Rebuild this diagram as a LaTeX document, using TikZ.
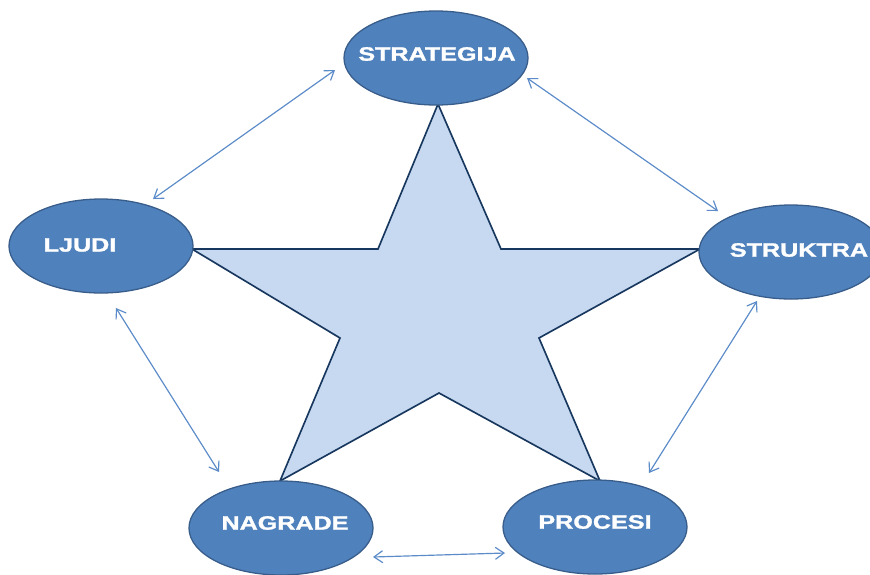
\documentclass[tikz,border=0pt]{standalone}
\usepackage{fontspec}
\setmainfont{Liberation Sans}
\newfontfamily\lblfont[FakeBold=1.2]{Liberation Sans Bold}
\usetikzlibrary{shapes.geometric,arrows.meta}
\definecolor{blobfill}{HTML}{4F81BD}
\definecolor{blobline}{HTML}{385D8A}
\definecolor{starfill}{HTML}{C6D9F1}
\definecolor{starline}{HTML}{17375E}
\definecolor{linkcol}{HTML}{5B8BC8}
\tikzset{
  blob/.style={ellipse,fill=blobfill,draw=blobline,line width=1.1pt,minimum width=5.52cm,minimum height=2.82cm,inner sep=0pt},
  lbl/.style={text=white,font=\fontsize{16.5}{18}\lblfont,inner sep=0pt},
  link/.style={draw=linkcol,line width=1pt,{Straight Barb[length=2.6mm,width=3.6mm]}-{Straight Barb[length=2.6mm,width=3.6mm]}}
}
\begin{document}
\begin{tikzpicture}[x=0.03cm,y=-0.03cm]
\useasboundingbox (0,0) rectangle (870,574);
\clip (0,0) rectangle (870,574);
\fill[white] (0,0) rectangle (870,574);
\filldraw[fill=starfill,draw=starline,line width=1.4pt,line join=miter]
  (438,104)--(501,249)--(700,249)--(539,338)--(600,481)--(439,393)--(280,481)--(340,338)--(192,249)--(378,249)--cycle;
\foreach \nm/\cx/\cy/\tx/\ty/\txt in {strategija/436/58/437/54/STRATEGIJA,ljudi/101/246/80/245/LJUDI,struktra/791/252/799/250/STRUKTRA,nagrade/281/528/285/523/NAGRADE,procesi/595/527/595/522/PROCESI}{
\node[blob] (\nm) at (\cx,\cy) {};
\node[lbl] (\nm-t) at (\tx,\ty) {\scalebox{1.3}[1]{\txt}};
}
\coordinate (a1) at (335,70);  \coordinate (a2) at (153,199);
\coordinate (b1) at (527,78);  \coordinate (b2) at (718,211);
\coordinate (c1) at (116,308); \coordinate (c2) at (219,472);
\coordinate (d1) at (757,301); \coordinate (d2) at (649,473);
\coordinate (e1) at (373,557); \coordinate (e2) at (505,553);
\draw[link] (a1)--(a2);
\draw[link] (b1)--(b2);
\draw[link] (c1)--(c2);
\draw[link] (d1)--(d2);
\draw[link] (e1)--(e2);
\end{tikzpicture}
\end{document}
